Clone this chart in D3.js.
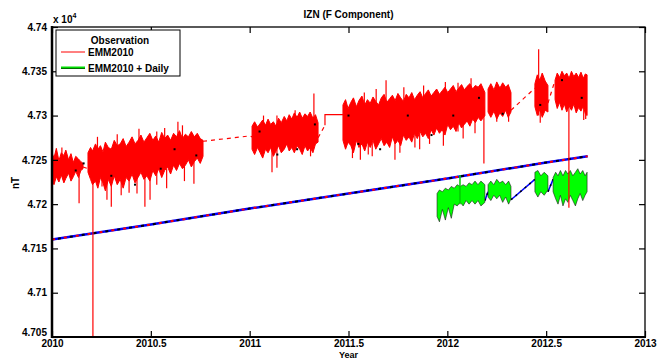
<!DOCTYPE html>
<html><head><meta charset="utf-8">
<script src="https://cdn.jsdelivr.net/npm/d3@7"></script>
<style>
html,body{margin:0;padding:0;background:#fff;}
svg{display:block;font-family:"Liberation Sans",Arial,sans-serif;font-weight:bold;}
</style></head>
<body><svg id="c" width="658" height="360"></svg>
<script>
// ---------- DATA (values in nT) ----------
const xTickValues = [2010, 2010.5, 2011, 2011.5, 2012, 2012.5, 2013];
const xTickLabels = ["2010", "2010.5", "2011", "2011.5", "2012", "2012.5", "2013"];
const yTickValues = [47050, 47100, 47150, 47200, 47250, 47300, 47350, 47400];
const yTickLabels = ["4.705", "4.71", "4.715", "4.72", "4.725", "4.73", "4.735", "4.74"];

// EMM2010 model curve [year, nT]
const modelCurve = [[2010.0, 47160], [2010.5, 47177], [2011.0, 47195], [2011.5, 47212], [2012.0, 47229], [2012.5, 47247], [2012.71, 47254]];

// Observation (red) bands: [year, low, high]
const obsSeg1 = [[2010.000,47228,47258],[2010.010,47222,47252],[2010.022,47231,47263],[2010.035,47225,47249],[2010.047,47233,47258],[2010.060,47224,47255],[2010.070,47229,47261],[2010.084,47235,47250],[2010.096,47226,47257],[2010.108,47231,47247],[2010.120,47237,47254],[2010.134,47230,47251],[2010.146,47238,47248],[2010.157,47240,47246]];
const obsSeg2 = [[2010.182,47236,47258],[2010.195,47228,47264],[2010.205,47222,47260],[2010.220,47226,47268],[2010.232,47218,47262],[2010.245,47230,47266],[2010.258,47224,47259],[2010.270,47215,47270],[2010.285,47228,47264],[2010.300,47220,47262],[2010.315,47232,47272],[2010.330,47222,47266],[2010.345,47228,47268],[2010.360,47218,47274],[2010.375,47230,47265],[2010.390,47226,47270],[2010.405,47234,47276],[2010.420,47224,47268],[2010.435,47230,47272],[2010.450,47236,47278],[2010.465,47228,47270],[2010.480,47232,47275],[2010.495,47226,47280],[2010.510,47238,47272],[2010.525,47232,47277],[2010.540,47240,47270],[2010.555,47230,47281],[2010.570,47238,47274],[2010.585,47242,47278],[2010.600,47234,47272],[2010.615,47244,47280],[2010.630,47238,47276],[2010.645,47246,47283],[2010.660,47240,47274],[2010.675,47244,47279],[2010.690,47250,47276],[2010.705,47242,47282],[2010.720,47248,47276],[2010.735,47252,47280],[2010.750,47246,47274],[2010.764,47254,47272]];
const obsSeg3 = [[2011.012,47262,47288],[2011.025,47256,47293],[2011.040,47264,47287],[2011.053,47258,47291],[2011.066,47252,47295],[2011.080,47262,47289],[2011.093,47258,47296],[2011.106,47264,47290],[2011.120,47254,47293],[2011.133,47260,47288],[2011.146,47266,47297],[2011.160,47258,47292],[2011.175,47262,47299],[2011.188,47268,47294],[2011.200,47260,47301],[2011.213,47264,47296],[2011.226,47258,47303],[2011.240,47266,47298],[2011.253,47262,47304],[2011.266,47256,47297],[2011.280,47266,47302],[2011.293,47260,47299],[2011.306,47264,47304],[2011.320,47258,47297],[2011.333,47268,47301],[2011.346,47270,47292]];
const obsSeg4 = [[2011.472,47272,47312],[2011.485,47262,47318],[2011.498,47270,47308],[2011.512,47266,47315],[2011.525,47258,47320],[2011.540,47272,47310],[2011.553,47264,47317],[2011.568,47268,47322],[2011.582,47260,47312],[2011.596,47270,47318],[2011.610,47264,47314],[2011.624,47272,47321],[2011.638,47262,47316],[2011.652,47268,47312],[2011.666,47274,47320],[2011.680,47266,47324],[2011.694,47270,47315],[2011.708,47264,47319],[2011.722,47276,47323],[2011.736,47268,47317],[2011.750,47272,47325],[2011.764,47266,47320],[2011.778,47278,47316],[2011.792,47272,47324],[2011.806,47276,47320],[2011.820,47270,47326],[2011.834,47280,47318],[2011.848,47274,47323],[2011.862,47282,47327],[2011.876,47276,47320],[2011.890,47280,47325],[2011.904,47274,47329],[2011.918,47284,47322],[2011.932,47278,47326],[2011.946,47286,47330],[2011.960,47280,47324],[2011.974,47284,47328],[2011.988,47278,47332],[2012.002,47290,47326],[2012.016,47284,47330],[2012.030,47288,47334],[2012.044,47282,47327],[2012.058,47292,47331],[2012.072,47286,47335],[2012.086,47290,47329],[2012.100,47294,47333],[2012.114,47288,47336],[2012.128,47296,47330],[2012.142,47292,47334],[2012.156,47298,47332],[2012.170,47294,47336],[2012.190,47300,47326]];
const obsSeg5 = [[2012.206,47304,47330],[2012.220,47298,47336],[2012.236,47305,47329],[2012.250,47296,47338],[2012.266,47303,47331],[2012.280,47299,47337],[2012.295,47306,47332],[2012.308,47298,47335],[2012.322,47304,47326]];
const obsSeg6 = [[2012.443,47310,47336],[2012.455,47300,47346],[2012.468,47307,47340],[2012.480,47298,47348],[2012.495,47306,47339],[2012.509,47304,47334]];
const obsSeg7 = [[2012.545,47318,47340],[2012.556,47308,47348],[2012.568,47315,47343],[2012.580,47306,47350],[2012.592,47313,47345],[2012.604,47304,47348],[2012.616,47311,47342],[2012.628,47306,47350],[2012.640,47313,47344],[2012.652,47303,47348],[2012.664,47309,47343],[2012.676,47305,47349],[2012.688,47311,47342],[2012.698,47302,47347],[2012.707,47300,47346]];

// Observation spikes [year, low, high]
const obsSpikes = [[2010.050,47240,47264],[2010.137,47201,47240],[2010.207,47050,47250],[2010.230,47250,47276],[2010.253,47220,47240],[2010.278,47205,47240],[2010.300,47197,47240],[2010.330,47255,47279],[2010.350,47210,47230],[2010.390,47213,47240],[2010.430,47212,47232],[2010.440,47260,47285],[2010.470,47197,47250],[2010.496,47205,47250],[2010.530,47222,47282],[2010.570,47262,47286],[2010.580,47218,47240],[2010.637,47250,47293],[2010.660,47262,47289],[2010.670,47226,47244],[2010.718,47223,47260],[2011.070,47282,47300],[2011.113,47236,47270],[2011.138,47241,47300],[2011.230,47290,47306],[2011.308,47254,47280],[2011.325,47280,47325],[2011.520,47252,47290],[2011.560,47250,47290],[2011.580,47300,47326],[2011.600,47256,47290],[2011.620,47254,47270],[2011.640,47300,47330],[2011.690,47280,47340],[2011.735,47250,47290],[2011.760,47258,47290],[2011.780,47310,47332],[2011.836,47264,47300],[2011.860,47262,47280],[2011.880,47310,47334],[2011.910,47268,47300],[2011.980,47266,47286],[2011.990,47316,47338],[2012.054,47282,47337],[2012.080,47274,47290],[2012.120,47320,47342],[2012.140,47280,47296],[2012.185,47246,47310],[2012.250,47293,47320],[2012.310,47293,47320],[2012.462,47300,47375],[2012.470,47292,47320],[2012.615,47196,47320],[2012.690,47295,47320],[2012.700,47296,47320]];

// Dashed links between observation segments, and the flat step
const obsGapLinks = [[[2010.157,47242],[2010.182,47240]],[[2010.764,47271],[2011.0,47277],[2011.012,47276]],[[2011.346,47275],[2011.381,47289]],[[2012.322,47306],[2012.443,47331]],[[2012.509,47314],[2012.545,47340]]];
const obsStep = [[2011.381,47289],[2011.381,47301],[2011.472,47301]];

// Observation points (black)
const obsDots = [[2010.12,47238],[2010.16,47246],[2010.30,47232],[2010.42,47222],[2010.55,47240],[2010.62,47262],[2010.73,47255],[2011.05,47282],[2011.14,47256],[2011.24,47262],[2011.33,47290],[2011.50,47300],[2011.55,47268],[2011.66,47262],[2011.80,47300],[2011.92,47278],[2012.03,47300],[2012.16,47320],[2012.28,47302],[2012.47,47312],[2012.58,47340],[2012.68,47320]];

// EMM2010 + Daily (green) bands: [year, low, high]
const dailySegA = [[2011.948,47186,47212],[2011.960,47180,47216],[2011.975,47194,47214],[2011.990,47182,47218],[2012.005,47196,47216],[2012.020,47184,47220],[2012.035,47200,47218],[2012.050,47198,47222],[2012.065,47202,47220],[2012.080,47198,47222],[2012.095,47204,47220],[2012.110,47200,47224],[2012.125,47204,47222],[2012.140,47200,47226],[2012.155,47204,47222],[2012.170,47198,47226],[2012.190,47202,47222]];
const dailySegB = [[2012.206,47208,47222],[2012.220,47204,47226],[2012.235,47210,47222],[2012.250,47206,47228],[2012.265,47210,47224],[2012.280,47202,47226],[2012.295,47208,47222],[2012.310,47200,47226],[2012.322,47206,47220]];
const dailySegC = [[2012.443,47214,47236],[2012.458,47208,47238],[2012.473,47214,47232],[2012.490,47210,47236],[2012.509,47216,47232]];
const dailySegD = [[2012.535,47214,47230],[2012.548,47206,47236],[2012.560,47200,47232],[2012.572,47210,47238],[2012.585,47198,47232],[2012.598,47206,47238],[2012.610,47202,47234],[2012.622,47210,47238],[2012.635,47204,47232],[2012.648,47198,47236],[2012.660,47206,47240],[2012.672,47212,47234],[2012.685,47204,47238],[2012.697,47210,47232],[2012.707,47214,47236]];
const dailySpikes = [[2012.064,47200,47233]];
const dailyLinks = [[[2012.190,47204],[2012.206,47214]],[[2012.322,47205],[2012.443,47228]],[[2012.509,47214],[2012.535,47228]]];

const legendLabels = ["Observation", "EMM2010", "EMM2010 + Daily"];

// ---------- CHART ----------
const svg = d3.select("#c");
const L = 52, R = 645, T = 27, B = 337;
const x = d3.scaleLinear().domain([2010, 2013]).range([L, R]);
const y = d3.scaleLinear().domain([47050, 47400]).range([B, T]);

svg.append("defs").append("clipPath").attr("id", "pc")
  .append("rect").attr("x", L).attr("y", T).attr("width", R - L).attr("height", B - T);
const plot = svg.append("g").attr("clip-path", "url(#pc)");

const area = d3.area().x(d => x(d[0])).y0(d => y(d[1])).y1(d => y(d[2]));
const line = d3.line().x(d => x(d[0])).y(d => y(d[1]));

// model line
plot.append("path").attr("d", line(modelCurve)).attr("fill", "none").attr("stroke", "#0000ff").attr("stroke-width", 2.5);
plot.append("path").attr("d", line(modelCurve)).attr("fill", "none").attr("stroke", "#ff0000").attr("stroke-width", 2).attr("stroke-dasharray", "3,9");
plot.append("path").attr("d", line(modelCurve)).attr("fill", "none").attr("stroke", "#000").attr("stroke-width", 2).attr("stroke-dasharray", "3,9").attr("stroke-dashoffset", 6);

// daily (green)
dailyLinks.forEach(s => {
  plot.append("path").attr("d", line(s)).attr("fill", "none").attr("stroke", "#0000ff").attr("stroke-width", 1.5);
  plot.append("path").attr("d", line(s)).attr("fill", "none").attr("stroke", "#000").attr("stroke-width", 1.5).attr("stroke-dasharray", "2,4");
});
[dailySegA, dailySegB, dailySegC, dailySegD].forEach(s => {
  plot.append("path").attr("d", area(s)).attr("fill", "#00ff00").attr("stroke", "#1a1a1a").attr("stroke-width", 0.6);
});
dailySpikes.forEach(s => {
  plot.append("line").attr("x1", x(s[0])).attr("x2", x(s[0])).attr("y1", y(s[1])).attr("y2", y(s[2])).attr("stroke", "#00cc00").attr("stroke-width", 1.5);
});

// observation (red)
obsGapLinks.forEach(s => {
  plot.append("path").attr("d", line(s)).attr("fill", "none").attr("stroke", "#ff0000").attr("stroke-width", 1.2).attr("stroke-dasharray", "4,4");
});
plot.append("path").attr("d", line(obsStep)).attr("fill", "none").attr("stroke", "#ff0000").attr("stroke-width", 1.2);
[obsSeg1, obsSeg2, obsSeg3, obsSeg4, obsSeg5, obsSeg6, obsSeg7].forEach(s => {
  plot.append("path").attr("d", area(s)).attr("fill", "#ff0000").attr("stroke", "#ff0000").attr("stroke-width", 1);
});
obsSpikes.forEach(s => {
  plot.append("line").attr("x1", x(s[0])).attr("x2", x(s[0])).attr("y1", y(s[1])).attr("y2", y(s[2])).attr("stroke", "#ff0000").attr("stroke-width", 1.2);
});
obsDots.forEach(d => {
  plot.append("rect").attr("x", x(d[0]) - 1).attr("y", y(d[1]) - 1).attr("width", 2).attr("height", 2).attr("fill", "#000");
});

// axes
const fmtX = d => xTickLabels[xTickValues.indexOf(d)];
const fmtY = d => yTickLabels[yTickValues.indexOf(d)];
const ax = svg.append("g").attr("transform", `translate(0,${B})`)
  .call(d3.axisBottom(x).tickValues(xTickValues).tickFormat(fmtX).tickSizeInner(-6).tickSizeOuter(0).tickPadding(3));
const axT = svg.append("g").attr("transform", `translate(0,${T})`)
  .call(d3.axisTop(x).tickValues(xTickValues).tickFormat("").tickSizeInner(-6).tickSizeOuter(0));
const ay = svg.append("g").attr("transform", `translate(${L},0)`)
  .call(d3.axisLeft(y).tickValues(yTickValues).tickFormat(fmtY).tickSizeInner(-6).tickSizeOuter(0).tickPadding(5));
const ayR = svg.append("g").attr("transform", `translate(${R},0)`)
  .call(d3.axisRight(y).tickValues(yTickValues).tickFormat("").tickSizeInner(-6).tickSizeOuter(0));
[ax, axT, ay, ayR].forEach(g => {
  g.select(".domain").remove();
  g.selectAll(".tick line").attr("stroke", "#000").attr("stroke-width", 1.2);
  g.selectAll("text").attr("fill", "#000").style("font-size", "10px").style("font-weight", "bold").style("font-family", "'Liberation Sans', Arial, sans-serif");
});
// lift the bottom y label clear of the "2010" label
ay.selectAll(".tick").filter(d => d === yTickValues[0]).select("text").attr("y", -5);

// frame
svg.append("rect").attr("x", L).attr("y", T).attr("width", R - L).attr("height", B - T)
  .attr("fill", "none").attr("stroke", "#000").attr("stroke-width", 1.3);
svg.append("line").attr("x1", L).attr("x2", L).attr("y1", T - 1).attr("y2", B + 1).attr("stroke", "#000").attr("stroke-width", 2.5);
svg.append("line").attr("x1", L - 1).attr("x2", R + 1).attr("y1", B).attr("y2", B).attr("stroke", "#000").attr("stroke-width", 2.2);

// titles
svg.append("text").attr("x", (L + R) / 2).attr("y", 18).attr("text-anchor", "middle").style("font-size", "10px").text("IZN (F Component)");
svg.append("text").attr("x", (L + R) / 2).attr("y", 358).attr("text-anchor", "middle").style("font-size", "9px").text("Year");
svg.append("text").attr("transform", "translate(19,183) rotate(-90)").attr("text-anchor", "middle").style("font-size", "10px").text("nT");
const ex = svg.append("text").attr("x", 53).attr("y", 23).style("font-size", "10px");
ex.append("tspan").text("x 10");
ex.append("tspan").attr("dy", -5).style("font-size", "7px").text("4");

// legend
const lg = svg.append("g");
lg.append("rect").attr("x", 56).attr("y", 30).attr("width", 124).attr("height", 46).attr("fill", "#fff").attr("stroke", "#000").attr("stroke-width", 1);
lg.append("text").attr("x", 120).attr("y", 44).attr("text-anchor", "middle").style("font-size", "10px").text(legendLabels[0]);
lg.append("line").attr("x1", 61).attr("x2", 85).attr("y1", 52).attr("y2", 52).attr("stroke", "#ff0000").attr("stroke-width", 1);
lg.append("text").attr("x", 88).attr("y", 55.5).style("font-size", "10px").text(legendLabels[1]);
lg.append("line").attr("x1", 61).attr("x2", 85).attr("y1", 68.5).attr("y2", 68.5).attr("stroke", "#000").attr("stroke-width", 1);
lg.append("line").attr("x1", 61).attr("x2", 85).attr("y1", 67.5).attr("y2", 67.5).attr("stroke", "#00dd00").attr("stroke-width", 2);
lg.append("text").attr("x", 88).attr("y", 72).style("font-size", "10px").text(legendLabels[2]);
</script></body></html>
